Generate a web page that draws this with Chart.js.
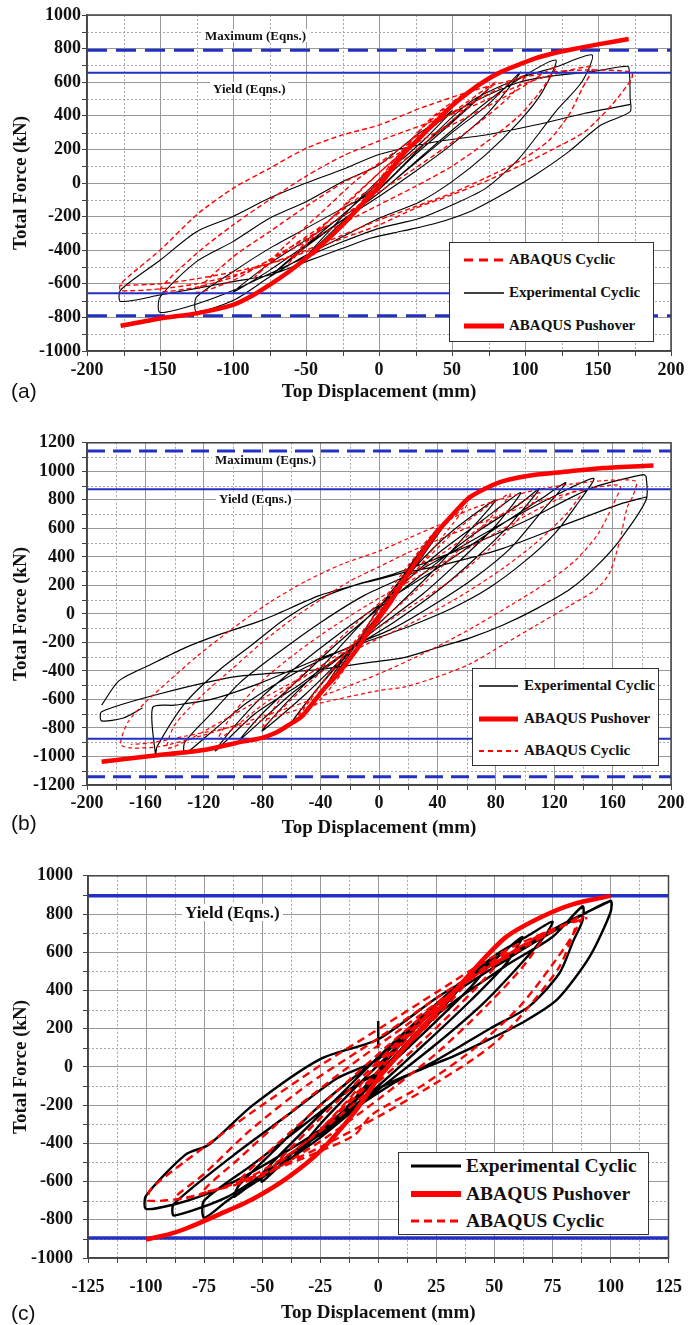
<!DOCTYPE html>
<html>
<head>
<meta charset="utf-8">
<title>Total force vs top displacement</title>
<script src="https://cdn.jsdelivr.net/npm/chart.js@4.4.1/dist/chart.umd.min.js"></script>
<style>
  html, body { margin: 0; padding: 0; background: #fff; }
  body { position: relative; width: 696px; height: 1325px; overflow: hidden; font-family: 'Liberation Serif', 'Times New Roman', serif; }
  canvas { position: absolute; left: 0; }
  .note { position: absolute; font-weight: bold; background: #fff; padding: 0 3px; line-height: 1; white-space: nowrap; color: #111; }
  .tag { position: absolute; left: 11px; font-family: 'Liberation Sans', Arial, sans-serif; font-size: 21px; line-height: 1; color: #111; }
  .legend { position: absolute; background: #fff; border: 1.5px solid #333; box-sizing: border-box; }
  .legend svg { position: absolute; overflow: visible; }
  .legend span { position: absolute; font-weight: bold; white-space: nowrap; line-height: 1; color: #111; }
</style>
</head>
<body>
<canvas id="chartA" width="696" height="410" style="top:0"></canvas>
<canvas id="chartB" width="696" height="420" style="top:425px"></canvas>
<canvas id="chartC" width="696" height="470" style="top:855px"></canvas>

<!-- (a) -->
<div class="note" style="left:202px;top:29px;font-size:13px">Maximum (Eqns.)</div>
<div class="note" style="left:210px;top:82px;font-size:13px">Yield (Eqns.)</div>
<div class="legend" style="left:449px;top:242px;width:205px;height:100px">
  <svg style="left:14px;top:13px" width="40" height="8"><line x1="0" y1="4" x2="40" y2="4" stroke="#f00" stroke-width="3" stroke-dasharray="9 6"/></svg>
  <span style="left:59px;top:9px;font-size:15px">ABAQUS Cyclic</span>
  <svg style="left:14px;top:46px" width="40" height="8"><line x1="0" y1="4" x2="40" y2="4" stroke="#000" stroke-width="1.5"/></svg>
  <span style="left:59px;top:42px;font-size:15px">Experimental Cyclic</span>
  <svg style="left:14px;top:79px" width="40" height="8"><line x1="0" y1="4" x2="40" y2="4" stroke="#f00" stroke-width="5"/></svg>
  <span style="left:59px;top:75px;font-size:15px">ABAQUS Pushover</span>
</div>
<div class="tag" style="top:380px">(a)</div>

<!-- (b) -->
<div class="note" style="left:212px;top:453px;font-size:13px">Maximum (Eqns.)</div>
<div class="note" style="left:216px;top:492px;font-size:13px">Yield (Eqns.)</div>
<div class="legend" style="left:472px;top:668px;width:187px;height:98px">
  <svg style="left:6px;top:13px" width="39" height="8"><line x1="0" y1="4" x2="39" y2="4" stroke="#000" stroke-width="1.5"/></svg>
  <span style="left:51px;top:9px;font-size:15px">Experimental Cyclic</span>
  <svg style="left:6px;top:46px" width="39" height="8"><line x1="0" y1="4" x2="39" y2="4" stroke="#f00" stroke-width="5"/></svg>
  <span style="left:51px;top:42px;font-size:15px">ABAQUS Pushover</span>
  <svg style="left:6px;top:78px" width="39" height="8"><line x1="0" y1="4" x2="39" y2="4" stroke="#f00" stroke-width="1.8" stroke-dasharray="5 4"/></svg>
  <span style="left:51px;top:74px;font-size:15px">ABAQUS Cyclic</span>
</div>
<div class="tag" style="top:812px">(b)</div>

<!-- (c) -->
<div class="note" style="left:182px;top:904px;font-size:17px">Yield (Eqns.)</div>
<div class="legend" style="left:398px;top:1152px;width:251px;height:83px">
  <svg style="left:12px;top:9px" width="50" height="8"><line x1="0" y1="4" x2="50" y2="4" stroke="#000" stroke-width="3"/></svg>
  <span style="left:67px;top:3px;font-size:19.5px">Experimental Cyclic</span>
  <svg style="left:12px;top:37px" width="50" height="8"><line x1="0" y1="4" x2="50" y2="4" stroke="#f00" stroke-width="6"/></svg>
  <span style="left:67px;top:31px;font-size:19.5px">ABAQUS Pushover</span>
  <svg style="left:12px;top:64px" width="50" height="8"><line x1="0" y1="4" x2="50" y2="4" stroke="#f00" stroke-width="3" stroke-dasharray="8 5"/></svg>
  <span style="left:67px;top:58px;font-size:19.5px">ABAQUS Cyclic</span>
</div>
<div class="tag" style="top:1302px">(c)</div>

<script>
// values: [top displacement (mm), total force (kN)], null = pen up

// ---- (a) ----
const pushA = [[-177,-850],[-150,-806],[-125,-776],[-100,-726],[-86,-667],[-75,-607],[-62,-530],[-50,-448],
  [-37,-350],[-25,-250],[-12,-130],[0,-20],[16,167],[28,270],[39,365],[50,460],[62,544],[73,610],[84,663],
  [96,705],[107,742],[121,775],[130,792],[150,825],[171,857]];

const expA = [[0,0],[20,200],[50,430],
  [30,250],[0,20],[-25,-200],[-50,-440],
  [-25,-230],[0,-40],[25,170],[50,360],[75,560],
  [50,370],[25,190],[0,0],[-25,-190],[-50,-370],[-75,-560],
  [-50,-380],[-25,-220],[0,-60],[25,120],[50,300],[75,470],[97,660],
  [75,420],[50,230],[25,70],[0,-80],[-25,-220],[-50,-370],[-75,-520],[-100,-650],
  [-75,-480],[-50,-340],[-25,-200],[0,-60],[28,150],[62,400],[89,580],[121,732],
  [112,544],[96,365],[73,167],[50,8],[28,-111],[0,-210],[-25,-320],[-50,-430],[-75,-560],[-100,-700],[-125,-766],
  [-125,-680],[-100,-528],[-75,-389],[-50,-270],[-25,-151],[0,-32],[28,206],[62,480],[96,623],[121,690],[146,762],
  [139,603],[121,425],[96,147],[73,-32],[50,-131],[28,-210],[0,-270],[-25,-350],[-50,-440],[-75,-540],[-100,-640],[-125,-720],[-150,-770],
  [-150,-680],[-125,-468],[-100,-349],[-75,-210],[-50,-111],[-25,8],[0,107],[28,300],[62,470],[96,600],[121,640],[146,663],[166,692],[171,690],
  [172,504],[172,425],[152,345],[130,187],[107,48],[84,-71],[62,-171],[39,-240],[16,-286],[-6,-329],[-25,-389],[-50,-468],
  [-75,-548],[-100,-587],[-125,-627],[-150,-667],[-177,-705],
  [-177,-637],[-150,-460],[-125,-290],[-100,-200],[-75,-90],[-50,0],[-25,80],[0,170],[39,246],[73,286],[107,345],[141,415],[172,468]];

const cycA = [[0,0],[15,170],[30,330],[45,440],[30,300],[10,120],[-10,-100],[-30,-300],[-45,-430],
  [-30,-290],[-10,-90],[10,130],[35,380],[60,540],
  [45,420],[25,250],[0,60],[-25,-150],[-50,-350],[-62,-480],
  [-45,-320],[-20,-100],[0,60],[30,290],[60,480],[80,600],
  [65,480],[40,300],[15,120],[-10,-60],[-40,-260],[-70,-440],[-85,-560],
  [-65,-380],[-40,-180],[-15,20],[10,180],[45,390],[75,530],[100,640],
  [90,520],[70,370],[45,210],[20,60],[-10,-110],[-40,-280],[-70,-430],[-100,-580],[-125,-650],
  [-100,-440],[-75,-290],[-50,-140],[-25,0],[0,110],[28,250],[62,400],[96,560],[121,690],
  [110,540],[96,400],[73,240],[50,100],[25,-20],[0,-130],[-25,-240],[-50,-350],[-75,-460],[-100,-560],[-125,-620],[-150,-640],
  [-125,-420],[-100,-250],[-75,-100],[-50,40],[-25,160],[0,250],[28,340],[62,450],[96,580],[121,650],[146,690],
  [139,560],[130,405],[116,250],[96,130],[73,30],[50,-60],[25,-140],[0,-220],[-25,-310],[-50,-400],[-75,-480],[-100,-550],[-125,-600],[-150,-630],[-177,-640],
  [-177,-600],[-150,-400],[-125,-190],[-100,-32],[-75,87],[-50,206],[-25,286],[0,345],[28,444],[62,544],[96,623],[121,663],[146,673],[173,660],
  [173,620],[160,470],[141,306],[118,196],[96,100],[73,10],[50,-70],[25,-150],[0,-250],[-25,-330],[-50,-410],[-75,-480],[-100,-530],[-125,-570],[-150,-600],[-177,-610]];

const maxA = 790, yieldA = 656;
const spanA = [-200, 200], lowYieldSpanA = [-200, 50];

// ---- (b) ----
const pushB = [[-190,-1037],[-155,-995],[-120,-955],[-98,-905],[-80,-869],[-70,-830],[-62,-780],[-53,-720],
  [-45,-620],[-38,-530],[-28,-420],[-16,-260],[-6,-110],[7,70],[16,220],[28,404],[39,564],[53,725],[62,817],
  [74,885],[85,931],[108,977],[131,1000],[154,1023],[188,1041]];

const expB = [[0,0],[20,320],[40,600],
  [25,380],[0,40],[-20,-280],[-40,-560],
  [-25,-330],[0,-20],[25,380],[50,700],
  [35,480],[10,120],[-20,-250],[-45,-560],[-60,-760],
  [-45,-560],[-20,-260],[0,0],[25,330],[50,580],[80,800],
  [60,560],[35,280],[10,30],[-20,-260],[-50,-560],[-80,-820],
  [-65,-640],[-40,-380],[-15,-100],[10,150],[40,420],[70,650],[97,850],
  [80,620],[55,370],[30,140],[0,-90],[-30,-330],[-60,-560],[-95,-880],
  [-80,-700],[-55,-460],[-30,-220],[0,40],[30,280],[65,560],[95,760],[110,880],
  [90,630],[65,380],[40,160],[10,-60],[-20,-250],[-55,-500],[-85,-700],[-112,-960],
  [-100,-800],[-80,-580],[-55,-360],[-30,-160],[0,60],[40,320],[80,600],[110,800],[128,920],
  [110,700],[90,460],[65,250],[40,80],[10,-100],[-20,-230],[-55,-400],[-90,-620],[-115,-830],[-133,-980],
  [-133,-900],[-115,-700],[-95,-480],[-70,-280],[-40,-60],[-10,130],[30,320],[75,580],[115,800],[147,950],
  [135,760],[120,560],[100,370],[75,180],[50,40],[20,-90],[-10,-200],[-45,-330],[-80,-480],[-115,-600],[-140,-640],[-155,-655],[-153,-990],
  [-152,-930],[-133,-628],[-110,-399],[-87,-216],[-64,-32],[-41,106],[-18,197],[10,280],[50,430],[100,650],[145,880],[181,977],
  [183,960],[183,800],[165,518],[149,335],[131,174],[108,37],[85,-78],[62,-170],[39,-239],[17,-307],[-6,-340],[-41,-390],
  [-98,-440],[-150,-560],[-190,-686],[-190,-750],[-175,-730],[-162,-660],null,
  [-190,-640],[-178,-468],[-156,-353],[-133,-238],[-110,-147],[-80,-44],[-41,128],[-18,197],[0,243],[17,289],[40,335],[85,460],[131,640],[165,770],[183,820]];

const cycB = [[0,0],[15,250],[30,480],[45,650],[35,500],[15,200],[0,0],[-15,-250],[-30,-480],[-45,-650],
  [-35,-480],[-15,-200],[0,50],[20,340],[45,620],[60,760],
  [45,560],[25,300],[0,0],[-20,-250],[-40,-500],[-55,-720],[-60,-780],
  [-45,-560],[-25,-300],[0,20],[25,300],[50,560],[75,760],[90,840],
  [75,660],[50,400],[25,160],[0,-60],[-30,-320],[-60,-600],[-80,-800],
  [-65,-560],[-40,-300],[-15,-60],[10,160],[40,400],[75,640],[110,850],
  [95,660],[75,450],[50,240],[20,40],[-10,-160],[-45,-400],[-80,-640],[-110,-880],
  [-100,-700],[-80,-470],[-55,-260],[-30,-80],[0,110],[35,310],[75,540],[110,740],[140,880],
  [130,720],[110,520],[85,320],[55,120],[25,-50],[-10,-220],[-50,-430],[-90,-650],[-130,-880],[-145,-940],
  [-140,-780],[-120,-560],[-100,-380],[-80,-200],[-60,-40],[-40,100],[-20,230],[0,330],[20,430],[50,560],[80,680],[110,790],[140,870],[165,900],
  [160,760],[150,560],[135,380],[115,220],[90,60],[60,-120],[30,-280],[0,-420],[-40,-580],[-80,-720],[-120,-850],[-150,-930],[-170,-940],
  [-177,-915],[-172,-760],[-160,-620],[-145,-480],[-125,-300],[-100,-100],[-75,80],[-50,230],[-25,350],[0,440],[20,530],[40,620],
  [62,730],[85,810],[108,870],[131,910],[154,935],[176,930],
  [174,829],[170,748],[165,518],[158,289],[149,174],[131,60],[108,-78],[85,-216],[62,-353],[39,-445],[17,-514],[0,-537],
  [-41,-628],[-64,-697],[-87,-766],[-110,-812],[-133,-858],[-156,-904],[-170,-915]];

const maxB = 1143, yieldB = 875;
const spanB = [-200, 200];

// ---- (c) ----
const pushC = [[-100,-903],[-90,-875],[-83,-847],[-68,-769],[-54,-691],[-39,-579],[-25,-441],[-10,-234],
  [0,-60],[12,110],[26,300],[41,507],[55,679],[70,783],[84,852],[100,895]];

const expC = [[0,0],[12,160],[25,310],[12,150],[0,-20],[-12,-190],[-25,-360],[-12,-200],[0,-40],[18,200],[37,440],
  [25,270],[10,80],[-10,-180],[-25,-340],[-37,-480],
  [-25,-300],[-10,-110],[10,130],[30,380],[50,570],
  [40,420],[25,240],[5,10],[-15,-230],[-35,-430],[-50,-600],[-50,-560],
  [-35,-370],[-15,-130],[5,110],[30,380],[50,560],[62,680],
  [55,540],[40,350],[20,120],[0,-100],[-20,-310],[-45,-520],[-62,-680],[-60,-620],
  [-45,-440],[-25,-200],[0,50],[25,330],[50,580],[65,690],[75,760],
  [72,690],[60,520],[45,330],[25,120],[0,-120],[-25,-370],[-50,-580],[-65,-700],[-75,-790],[-75,-700],
  [-54,-510],[-32,-303],[-10,-97],[0,-28],[26,280],[55,530],[75,680],[88,840],[88,766],
  [84,659],[78,490],[65,317],[48,200],[26,41],[5,-97],[-20,-300],[-45,-520],[-65,-680],[-88,-778],[-88,-717],
  [-62,-459],[-39,-252],[-18,-62],[0,40],[26,330],[55,560],[77,720],[100,869],[100,808],
  [91,576],[77,352],[62,231],[48,145],[33,59],[19,-10],[0,-114],[-25,-330],[-50,-520],[-62,-600],[-75,-670],[-88,-720],[-100,-743],[-100,-674],
  [-83,-459],[-73,-407],[-54,-200],[-25,41],[0,145],[26,369],[55,576],[77,731],[100,869],null,
  [0,100],[0,240]];

const cycC = [[0,0],[12,150],[25,320],[15,180],[0,-20],[-12,-170],[-25,-330],[-12,-160],[0,20],[20,250],[40,470],
  [28,300],[10,80],[-10,-160],[-30,-380],[-45,-520],
  [-30,-330],[-10,-90],[10,150],[35,420],[55,600],
  [45,450],[28,240],[8,10],[-15,-240],[-40,-470],[-60,-600],
  [-45,-420],[-20,-150],[5,120],[35,420],[60,620],[72,700],
  [62,520],[45,300],[25,70],[0,-170],[-25,-390],[-50,-570],[-75,-650],
  [-60,-480],[-40,-260],[-15,-20],[10,200],[40,460],[65,640],[85,766],
  [84,697],[78,524],[65,317],[52,145],[41,41],[20,-120],[0,-260],[-25,-420],[-50,-560],[-75,-660],[-88,-690],
  [-75,-560],[-55,-330],[-30,-90],[0,150],[30,400],[60,620],[80,740],[88,790],
  [80,620],[61,317],[41,93],[19,-97],[-3,-252],[-10,-355],[-25,-441],[-39,-510],[-60,-600],[-80,-680],[-99,-700],
  [-98,-640],[-83,-493],[-54,-234],[-25,7],[0,197],[25,390],[50,580],[75,720],[90,780]];

const yieldC = 895;
const spanC = [-125, 125];

// ---------------------------------------------------------------
const BLUE = '#2330c4', RED = '#ff0000', INK = '#111';
const SERIF = "'Liberation Serif', 'Times New Roman', serif";
const TICK_FONT = { family: SERIF, size: 18, weight: 'bold' };
const TITLE_FONT = { family: SERIF, size: 19, weight: 'bold' };

const toPts = arr => arr.map(p => p ? { x: p[0], y: p[1] } : { x: null, y: null });
const plain = v => String(v);   // no thousands separator, as in the figure

function curve(arr, color, width, dash, order) {
  return { data: toPts(arr), showLine: true, borderColor: color, borderWidth: width,
           borderDash: dash || [], pointRadius: 0, tension: 0.25, fill: false, order: order };
}
function level(y, span, width, dash) {
  return { data: span.map(x => ({ x: x, y: y })), showLine: true, borderColor: BLUE, borderWidth: width,
           borderDash: dash || [], pointRadius: 0, tension: 0, fill: false, order: 1 };
}

// dotted minor grid, minor tick marks and the full plot frame
const minorGrid = {
  id: 'minorGrid',
  beforeDatasetsDraw(chart, args, opts) {
    const { ctx, chartArea: a, scales: { x, y } } = chart;
    ctx.save();
    ctx.lineWidth = 1;
    const xs = [], ys = [];
    for (let v = x.min + opts.x; v < x.max; v += 2 * opts.x) xs.push(Math.round(x.getPixelForValue(v)) + 0.5);
    for (let v = y.min + opts.y; v < y.max; v += 2 * opts.y) ys.push(Math.round(y.getPixelForValue(v)) + 0.5);
    ctx.strokeStyle = '#a8a8a8';
    ctx.setLineDash([2, 2]);
    ctx.beginPath();
    xs.forEach(px => { ctx.moveTo(px, a.top); ctx.lineTo(px, a.bottom); });
    ys.forEach(py => { ctx.moveTo(a.left, py); ctx.lineTo(a.right, py); });
    ctx.stroke();
    ctx.setLineDash([]);
    ctx.strokeStyle = '#444';
    ctx.beginPath();
    xs.forEach(px => { ctx.moveTo(px, a.bottom); ctx.lineTo(px, a.bottom + 5); });
    ys.forEach(py => { ctx.moveTo(a.left - 5, py); ctx.lineTo(a.left, py); });
    ctx.stroke();
    ctx.restore();
  },
  afterDraw(chart) {
    const { ctx, chartArea: a } = chart;
    ctx.save();
    ctx.strokeStyle = '#444';
    ctx.lineWidth = 1.5;
    ctx.strokeRect(a.left, a.top, a.right - a.left, a.bottom - a.top);
    ctx.restore();
  }
};

function panel(id, p, datasets) {
  new Chart(document.getElementById(id), {
    type: 'scatter',
    data: { datasets: datasets },
    options: {
      responsive: false, animation: false, events: [],
      layout: { padding: { top: p.top, right: p.right, left: 0, bottom: 0 } },
      plugins: { legend: { display: false }, tooltip: { enabled: false }, minorGrid: { x: p.xMinor, y: p.yMinor } },
      scales: {
        x: {
          type: 'linear', min: p.xMin, max: p.xMax,
          ticks: { stepSize: p.xStep, font: TICK_FONT, color: INK, padding: p.xPad, autoSkip: false, maxRotation: 0, callback: plain },
          grid: { color: '#999', tickColor: '#444', tickLength: 5 },
          border: { color: '#444', width: 1.5 },
          title: { display: true, text: 'Top Displacement (mm)', font: TITLE_FONT, color: INK, padding: { top: 0, bottom: p.xTitlePad } },
          afterFit: s => { s.height = p.xHeight; }
        },
        y: {
          type: 'linear', min: p.yMin, max: p.yMax,
          ticks: { stepSize: 200, font: TICK_FONT, color: INK, padding: p.yPad, callback: plain },
          grid: { color: '#999', tickColor: '#444', tickLength: 5 },
          border: { color: '#444', width: 1.5 },
          title: { display: true, text: 'Total Force (kN)', font: TITLE_FONT, color: INK, padding: { top: 10, bottom: 0 } },
          afterFit: s => { s.width = p.left; }
        }
      }
    },
    plugins: [minorGrid]
  });
}

panel('chartA',
  { top: 15, right: 25, left: 87, xHeight: 59, xMin: -200, xMax: 200, xStep: 50, xMinor: 25, yMin: -1000, yMax: 1000, yMinor: 100,
    xPad: 4, xTitlePad: 7, yPad: 1 },
  [
    curve(pushA, RED, 4.5, null, 0),
    level(maxA, spanA, 3, [20, 9]), level(-maxA, spanA, 3, [20, 9]),
    level(yieldA, spanA, 2), level(-yieldA, lowYieldSpanA, 2),
    curve(cycA, RED, 1.4, [5, 3], 2),
    curve(expA, '#000', 1.1, null, 3)
  ]);

panel('chartB',
  { top: 11, right: 25, left: 87, xHeight: 60, xMin: -200, xMax: 200, xStep: 40, xMinor: 20, yMin: -1200, yMax: 1200, yMinor: 100,
    xPad: 3, xTitlePad: 6, yPad: 7 },
  [
    curve(pushB, RED, 4.5, null, 0),
    level(maxB, spanB, 3, [18, 8]), level(-maxB, spanB, 3, [18, 8]),
    level(yieldB, spanB, 2), level(-yieldB, spanB, 2),
    curve(cycB, RED, 1.2, [4, 3], 2),
    curve(expB, '#000', 1.2, null, 3)
  ]);

panel('chartC',
  { top: 16, right: 25, left: 88, xHeight: 67, xMin: -125, xMax: 125, xStep: 25, xMinor: 12.5, yMin: -1000, yMax: 1000, yMinor: 100,
    xPad: 14, xTitlePad: 1, yPad: 10 },
  [
    curve(pushC, RED, 4.5, null, 0),
    level(yieldC, spanC, 3.5), level(-yieldC, spanC, 3.5),
    curve(cycC, RED, 2.4, [8, 5], 2),
    curve(expC, '#000', 2.4, null, 3)
  ]);
</script>
</body>
</html>
